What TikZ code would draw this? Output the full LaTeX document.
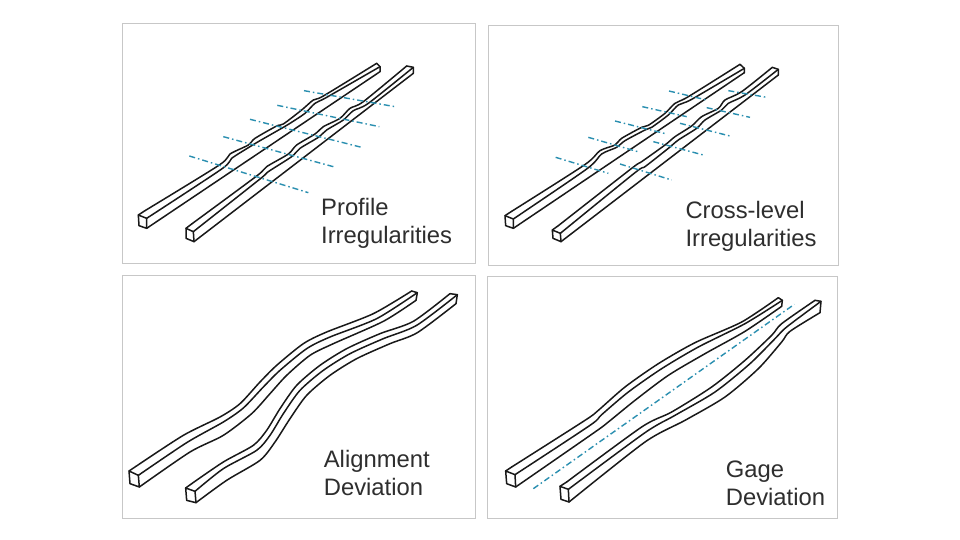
\documentclass[tikz,border=0pt]{standalone}
\usepackage{fontspec}
\setmainfont{Liberation Sans}
\usepackage{xcolor}
\definecolor{trackblue}{HTML}{2A8FB0}
\definecolor{labelgray}{HTML}{2E2E2E}
\begin{document}
\begin{tikzpicture}[x=1pt, y=-1pt,
    panel/.style={draw=black!22, fill=white, line width=0.8pt},
    rail/.style={draw=black!90, line width=1.5pt, line join=round, line cap=round},
    axis/.style={draw=trackblue, line width=1.4pt, dash pattern=on 6pt off 3pt on 1.5pt off 3pt},
    caption/.style={anchor=west, align=left, inner sep=0pt, text=labelgray, font=\fontsize{23.8}{28}\selectfont},
    zoomed/.style={x=0.33333pt, y=-0.33333pt}
]
    \useasboundingbox (0,0) rectangle (960,540);
    \path [panel] (122,23) rectangle (475,263);
    \path [panel] (488,25) rectangle (838,265);
    \path [panel] (122,275) rectangle (475,518);
    \path [panel] (487,276) rectangle (837,518);

    % profile
    \begin{scope}[xshift=120pt, yshift=-20pt, zoomed]
        \draw [rail] (55,585) -- (80,595) -- (80,625) -- (57,617) -- cycle;
        \draw [rail] (55,585) -- (75,572);
        \draw [rail] plot [smooth, tension=0.45] coordinates {(75,572) (298,435) (330,402) (385,375) (405,355) (470,318) (490,312) (545,270) (580,240) (610,228) (770,130)};
        \draw [rail] plot [smooth, tension=0.45] coordinates {(80,595) (305,447) (335,415) (390,380) (420,362) (490,322) (510,310) (555,280) (585,250) (620,232) (780,140)};
        \draw [rail] (80,625) -- (780,155);
        \draw [rail] (770,130) -- (780,140) -- (780,155);
        \draw [rail] (198,625) -- (220,635) -- (222,665) -- (198,655) -- cycle;
        \draw [rail] (198,625) -- (215,612);
        \draw [rail] plot [smooth, tension=0.45] coordinates {(215,612) (410,468) (440,440) (505,402) (530,375) (585,342) (610,320) (660,295) (690,265) (730,245) (860,138)};
        \draw [rail] plot [smooth, tension=0.45] coordinates {(220,635) (420,477) (445,455) (515,410) (540,385) (595,352) (620,330) (670,300) (700,272) (745,250) (880,142)};
        \draw [rail] (222,665) -- (880,160);
        \draw [rail] (860,138) -- (880,142) -- (880,160);
        \foreach \xa/\ya/\xb/\yb in {208/408/565/518, 310/350/640/440, 390/298/725/382, 472/256/778/320, 552/212/825/260}
            \draw [axis] (\xa,\ya) -- (\xb,\yb);
        \node [caption] (profile) at (603,610) {Profile\\Irregularities};
    \end{scope}

    % cross-level
    \begin{scope}[xshift=485pt, yshift=-20pt, zoomed]
        \draw [rail] (60,587) -- (85,597) -- (85,625) -- (62,617) -- cycle;
        \draw [rail] (60,587) -- (80,574);
        \draw [rail] plot [smooth, tension=0.45] coordinates {(80,574) (298,435) (345,392) (390,375) (410,355) (470,322) (490,316) (540,280) (570,250) (610,230) (765,133)};
        \draw [rail] plot [smooth, tension=0.45] coordinates {(85,597) (305,447) (350,402) (395,382) (420,362) (480,330) (500,322) (550,285) (580,255) (620,238) (778,145)};
        \draw [rail] (85,625) -- (778,158);
        \draw [rail] (765,133) -- (778,145) -- (778,158);
        \draw [rail] (202,630) -- (226,640) -- (228,665) -- (204,655) -- cycle;
        \draw [rail] (202,630) -- (220,617);
        \draw [rail] plot [smooth, tension=0.45] coordinates {(220,617) (440,445) (470,425) (540,375) (570,350) (620,318) (650,290) (700,265) (720,240) (770,215) (862,142)};
        \draw [rail] plot [smooth, tension=0.45] coordinates {(226,640) (450,458) (480,440) (550,385) (580,360) (635,325) (660,300) (710,270) (730,250) (780,225) (880,148)};
        \draw [rail] (228,665) -- (880,165);
        \draw [rail] (862,142) -- (880,148) -- (880,165);
        \foreach \xa/\ya/\xb/\yb in {212/412/370/460, 310/352/465/397, 390/303/545/342, 472/260/605/290, 552/213/665/240, 405/432/560/480, 505/365/655/405, 585/310/735/348, 665/263/795/292, 730/212/845/232}
            \draw [axis] (\xa,\ya) -- (\xb,\yb);
        \node [caption] (crosslevel) at (601,620) {Cross-level\\Irregularities};
    \end{scope}

    % alignment
    \begin{scope}[xshift=120pt, yshift=-272pt, zoomed]
        \draw [rail] (27,597) -- (55,610) -- (58,645) -- (30,635) -- cycle;
        \draw [rail] (27,597) -- (48,583);
        \draw [rail] plot [smooth, tension=0.45] coordinates {(48,583) (190,490) (300,435) (360,395) (420,330) (470,280) (550,215) (620,180) (760,125) (875,57)};
        \draw [rail] plot [smooth, tension=0.45] coordinates {(55,610) (200,512) (310,450) (370,408) (430,345) (480,295) (560,230) (630,195) (770,140) (892,62)};
        \draw [rail] plot [smooth, tension=0.45] coordinates {(58,645) (210,540) (310,490) (395,425) (450,365) (500,310) (570,250) (640,215) (790,148) (888,85)};
        \draw [rail] (875,57) -- (892,62) -- (888,85);
        \draw [rail] (197,648) -- (225,658) -- (228,692) -- (200,685) -- cycle;
        \draw [rail] (197,648) -- (215,635);
        \draw [rail] plot [smooth, tension=0.45] coordinates {(215,635) (310,570) (400,520) (440,475) (480,410) (530,340) (600,280) (680,230) (780,185) (880,148) (990,65)};
        \draw [rail] plot [smooth, tension=0.45] coordinates {(225,658) (310,590) (410,535) (450,490) (490,425) (540,355) (610,295) (690,245) (790,200) (890,160) (1012,68)};
        \draw [rail] plot [smooth, tension=0.45] coordinates {(228,692) (320,625) (420,565) (465,510) (510,440) (560,370) (630,310) (710,260) (810,215) (892,182) (1008,95)};
        \draw [rail] (990,65) -- (1012,68) -- (1008,95);
        \node [caption] (alignment) at (611,603) {Alignment\\Deviation};
    \end{scope}

    % gage
    \begin{scope}[xshift=485pt, yshift=-272pt, zoomed]
        \draw [rail] (62,597) -- (90,608) -- (92,645) -- (65,635) -- cycle;
        \draw [rail] (62,597) -- (80,585);
        \draw [rail] plot [smooth, tension=0.45] coordinates {(80,585) (300,445) (340,415) (420,345) (520,275) (630,212) (770,150) (880,77)};
        \draw [rail] plot [smooth, tension=0.45] coordinates {(90,608) (315,460) (350,428) (430,360) (530,290) (640,225) (780,155) (892,85)};
        \draw [rail] plot [smooth, tension=0.45] coordinates {(92,645) (330,480) (370,450) (450,385) (550,310) (660,245) (780,178) (890,103)};
        \draw [rail] (880,77) -- (892,85) -- (890,103);
        \draw [rail] (225,643) -- (250,652) -- (252,690) -- (228,682) -- cycle;
        \draw [rail] (225,643) -- (245,630);
        \draw [rail] plot [smooth, tension=0.45] coordinates {(245,630) (470,465) (560,420) (680,345) (780,265) (860,190) (890,155) (990,85)};
        \draw [rail] plot [smooth, tension=0.45] coordinates {(250,652) (480,482) (570,430) (690,360) (795,275) (870,200) (905,165) (1008,88)};
        \draw [rail] plot [smooth, tension=0.45] coordinates {(252,690) (480,510) (600,445) (720,375) (820,290) (890,210) (915,178) (1005,122)};
        \draw [rail] (990,85) -- (1008,88) -- (1005,122);
        \draw [axis] (145,650) -- (928,97);
        \node [caption] (gage) at (722,635) {Gage\\Deviation};
    \end{scope}
\end{tikzpicture}
\end{document}
